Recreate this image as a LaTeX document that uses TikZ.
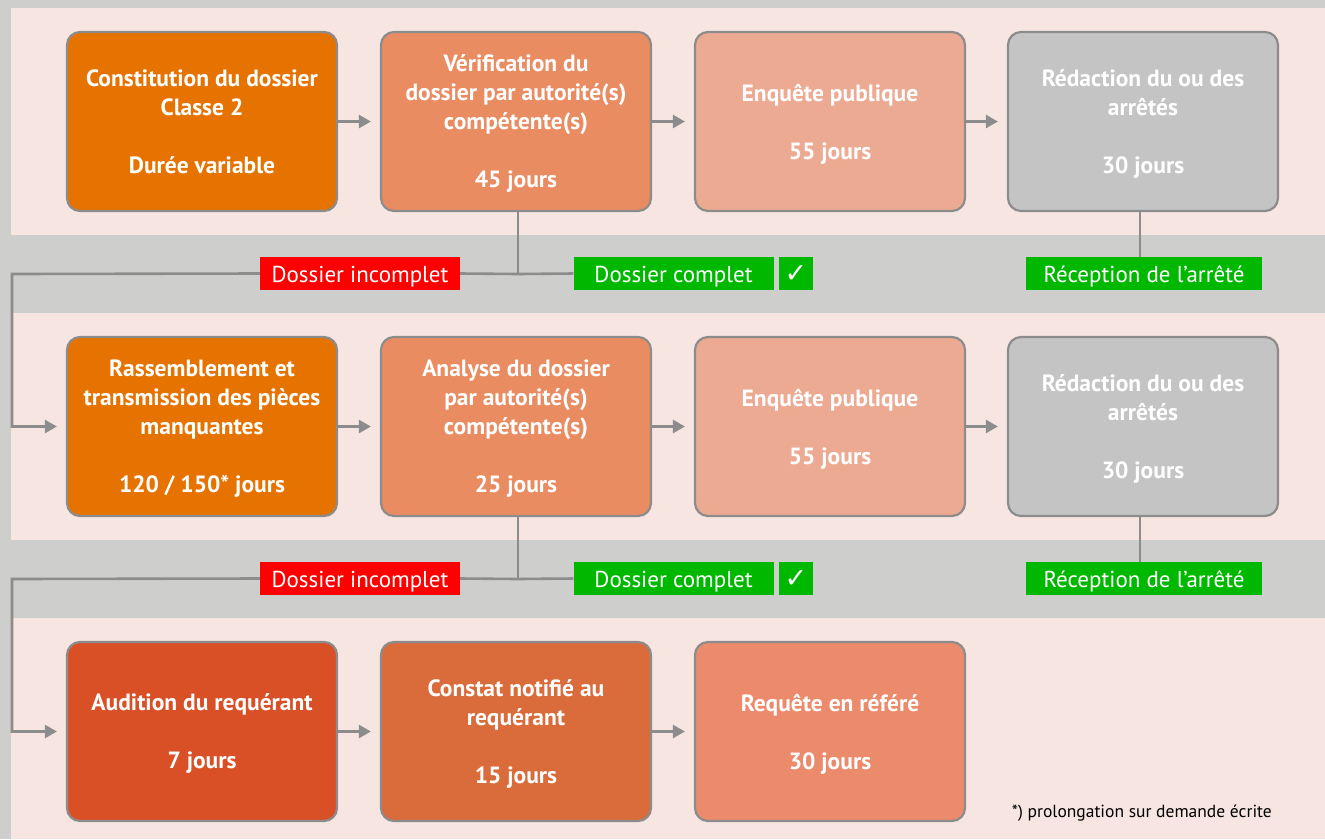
\documentclass[tikz,border=0pt]{standalone}
\usepackage{fontspec}
\setmainfont{PT Sans}
\newfontfamily\boxfont{PT Sans}
\newfontfamily\symfont{DejaVu Sans}
\usetikzlibrary{arrows.meta}
\definecolor{bggrey}{HTML}{CECECC}
\definecolor{band}{HTML}{F7E5E2}
\definecolor{lineg}{HTML}{8C8C8C}
\definecolor{cOrange}{HTML}{E67300}
\definecolor{cSalmon}{HTML}{EA8C62}
\definecolor{cLight}{HTML}{EDAA92}
\definecolor{cGrey}{HTML}{C4C4C4}
\definecolor{cRed}{HTML}{D95027}
\definecolor{cRust}{HTML}{DA6C3C}
\definecolor{cCoral}{HTML}{EC8A6C}
\definecolor{lblRed}{HTML}{FF0000}
\definecolor{lblGreen}{HTML}{00B800}
\begin{document}
\begin{tikzpicture}[x=1pt,y=-1pt,
  stage/.style={draw=lineg, line width=2.2pt, rounded corners=13pt, minimum width=270pt, minimum height=179pt, inner sep=0pt, text depth=0pt, text=white, align=center, font=\boxfont\bfseries\fontsize{23.5}{29}\selectfont},
  lbl/.style={inner sep=0pt, minimum width=200pt, minimum height=33pt, text height=19pt, text depth=2pt, text=white, font=\fontsize{23}{24}\selectfont},
  conn/.style={draw=lineg, line width=2.6pt},
  arr/.style={conn, -{Triangle[length=12pt,width=13pt]}}]
\useasboundingbox (0,0) rectangle (1325,839);
\fill[bggrey] (0,0) rectangle (1325,839);
\fill[band] (11,8) rectangle (1325,235);
\fill[band] (11,313) rectangle (1325,540);
\fill[band] (11,618) rectangle (1325,839);
% row 1
\node[stage, fill=cOrange] (b11) at (202,121.5) {Constitution du dossier\\Classe 2\\[29pt]Durée variable};
\node[stage, fill=cSalmon] (b12) at (516,121.5) {Vérification du\\dossier par autorité(s)\\compétente(s)\\[29pt]45 jours};
\node[stage, fill=cLight] (b13) at (830,121.5) {Enquête publique\\[29pt]55 jours};
\node[stage, fill=cGrey] (b14) at (1143,121.5) {Rédaction du ou des\\arrêtés\\[29pt]30 jours};
% row 2
\node[stage, fill=cOrange] (b21) at (202,426.5) {Rassemblement et\\transmission des pièces\\manquantes\\[29pt]120 / 150* jours};
\node[stage, fill=cSalmon] (b22) at (516,426.5) {Analyse du dossier\\par autorité(s)\\compétente(s)\\[29pt]25 jours};
\node[stage, fill=cLight] (b23) at (830,426.5) {Enquête publique\\[29pt]55 jours};
\node[stage, fill=cGrey] (b24) at (1143,426.5) {Rédaction du ou des\\arrêtés\\[29pt]30 jours};
% row 3
\node[stage, fill=cRed] (b31) at (202,731.5) {Audition du requérant\\[29pt]7 jours};
\node[stage, fill=cRust] (b32) at (516,731.5) {Constat notifié au\\requérant\\[29pt]15 jours};
\node[stage, fill=cCoral] (b33) at (830,731.5) {Requête en référé\\[29pt]30 jours};
% arrows between boxes
\foreach \r in {1,2}{
  \draw[arr] (b\r1.east) -- ([xshift=-9pt]b\r2.west);
  \draw[arr] (b\r2.east) -- ([xshift=-9pt]b\r3.west);
  \draw[arr] (b\r3.east) -- ([xshift=-9pt]b\r4.west);
}
\draw[arr] (b31.east) -- ([xshift=-9pt]b32.west);
\draw[arr] (b32.east) -- ([xshift=-9pt]b33.west);
% labels
\node[lbl, fill=lblRed] (inc1) at (360,273.5) {Dossier incomplet};
\node[lbl, fill=lblGreen] (com1) at (673.5,273.5) {Dossier complet};
\node[lbl, fill=lblGreen, minimum width=34pt, font=\symfont\fontsize{27}{27}\selectfont] (chk1) at (796,273.5) {✓};
\node[lbl, fill=lblGreen, minimum width=236pt] (rec1) at (1144,273.5) {Réception de l’arrêté};
\node[lbl, fill=lblRed] (inc2) at (360,578.5) {Dossier incomplet};
\node[lbl, fill=lblGreen] (com2) at (673.5,578.5) {Dossier complet};
\node[lbl, fill=lblGreen, minimum width=34pt, font=\symfont\fontsize{27}{27}\selectfont] (chk2) at (796,578.5) {✓};
\node[lbl, fill=lblGreen, minimum width=236pt] (rec2) at (1144,578.5) {Réception de l’arrêté};
% branching connectors
\coordinate (j1) at (518,274);
\coordinate (j2) at (518,579);
\coordinate (c1) at (12,274);
\coordinate (c2) at (12,579);
\draw[conn] (b12.south -| j1) -- (j1);
\draw[conn] (inc1.east) -- (j1) -- (com1.west);
\draw[arr] (inc1.west) -- (c1) |- ([xshift=-9pt]b21.west);
\draw[conn] (b22.south -| j2) -- (j2);
\draw[conn] (inc2.east) -- (j2) -- (com2.west);
\draw[arr] (inc2.west) -- (c2) |- ([xshift=-9pt]b31.west);
\draw[conn] (b14.south -| 1140,0) -- (rec1.north -| 1140,0);
\draw[conn] (b24.south -| 1140,0) -- (rec2.north -| 1140,0);
% footnote
\node[anchor=east, inner sep=0pt, font=\fontsize{17.5}{20}\selectfont] (fn) at (1272,813) {*) prolongation sur demande écrite};
\end{tikzpicture}
\end{document}
